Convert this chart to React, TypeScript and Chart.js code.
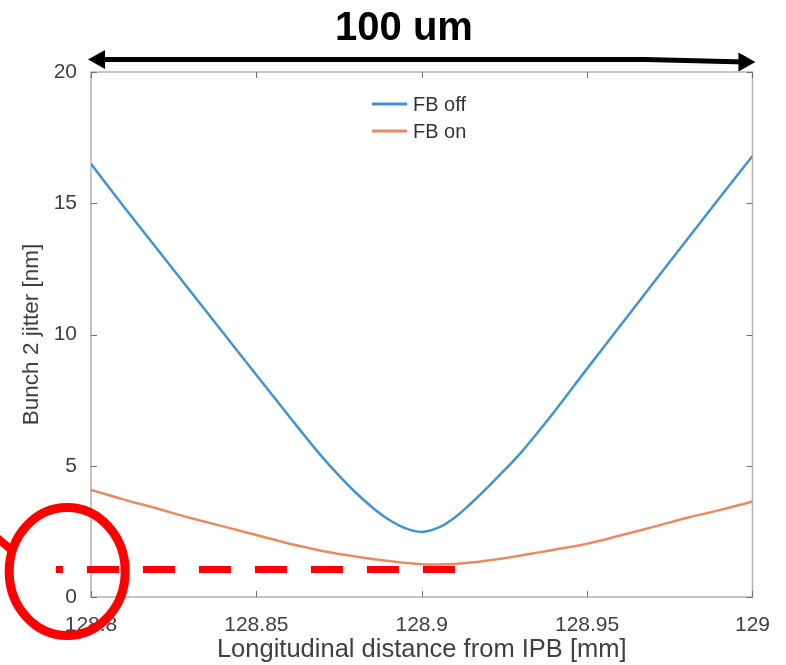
import { useEffect, useRef } from "react";
import { Chart, registerables } from "chart.js";
Chart.register(...registerables);

const positions = [
  128.8, 128.81, 128.82, 128.83, 128.84, 128.85, 128.86, 128.865, 128.87, 128.875,
  128.88, 128.885, 128.89, 128.895, 128.9, 128.905, 128.91, 128.915, 128.92, 128.925,
  128.93, 128.935, 128.94, 128.95, 128.96, 128.97, 128.98, 128.99, 129.0,
];
const fbOff = [
  16.5, 14.86, 13.26, 11.66, 10.06, 8.46, 6.87, 6.08, 5.32, 4.62,
  3.98, 3.42, 2.95, 2.62, 2.48, 2.64, 3.03, 3.58, 4.19, 4.83,
  5.5, 6.26, 7.05, 8.7, 10.33, 11.96, 13.58, 15.2, 16.8,
];
const fbOn = [
  4.08, 3.71, 3.37, 3.01, 2.69, 2.36, 2.03, 1.89, 1.75, 1.64,
  1.54, 1.45, 1.37, 1.3, 1.25, 1.24, 1.26, 1.31, 1.39, 1.48,
  1.58, 1.69, 1.8, 2.03, 2.34, 2.67, 3.01, 3.31, 3.64,
];
const seriesNames = ["FB off", "FB on"];
const xTicks = [128.8, 128.85, 128.9, 128.95, 129];
const xTickLabels = ["128.8", "128.85", "128.9", "128.95", "129"];
const yTicks = [0, 5, 10, 15, 20];
const yTickLabels = ["0", "5", "10", "15", "20"];
const titleText = "100 um";
const xTitle = "Longitudinal distance from IPB [mm]";
const yTitle = "Bunch 2 jitter [nm]";
// annotation anchors in data units
const redLine = { x0: 128.7894, x1: 128.9101, y: 1.05 };
const redCircle = { x: 128.7928, y: 0.97 };
const arrowSpan = { x0: 128.7991, x1: 129.0009 };

const FONT = "'Liberation Sans', Arial, Helvetica, sans-serif";
const BLUE = "#4293d3";
const ORANGE = "#e98a60";

const decor = {
  id: "decor",
  beforeDatasetsDraw(chart: any) {
    const { ctx, chartArea: a, scales } = chart;
    ctx.save();
    ctx.strokeStyle = "#b3b3b3";
    ctx.lineWidth = 1.5;
    ctx.strokeRect(a.left, a.top, a.right - a.left, a.bottom - a.top);
    ctx.strokeStyle = "#707070";
    ctx.lineWidth = 1;
    const tl = 6;
    xTicks.forEach((v) => {
      const px = Math.round(scales.x.getPixelForValue(v)) + 0.5;
      ctx.beginPath();
      ctx.moveTo(px, a.bottom);
      ctx.lineTo(px, a.bottom - tl);
      ctx.moveTo(px, a.top);
      ctx.lineTo(px, a.top + tl);
      ctx.stroke();
    });
    yTicks.forEach((v) => {
      const py = Math.round(scales.y.getPixelForValue(v)) + 0.5;
      ctx.beginPath();
      ctx.moveTo(a.left, py);
      ctx.lineTo(a.left + tl, py);
      ctx.moveTo(a.right, py);
      ctx.lineTo(a.right - tl, py);
      ctx.stroke();
    });
    ctx.restore();
  },
  afterDraw(chart: any) {
    const { ctx, scales } = chart;
    const sx = scales.x, sy = scales.y;
    ctx.save();
    // legend
    const colors = [BLUE, ORANGE];
    ctx.font = `20px ${FONT}`;
    ctx.textBaseline = "middle";
    ctx.textAlign = "left";
    seriesNames.forEach((n, i) => {
      const y = 104 + i * 27;
      ctx.strokeStyle = colors[i];
      ctx.lineWidth = 3;
      ctx.beginPath();
      ctx.moveTo(372, y);
      ctx.lineTo(407, y);
      ctx.stroke();
      ctx.fillStyle = "#333333";
      ctx.fillText(n, 413, y + 1);
    });
    // title
    ctx.fillStyle = "#000";
    ctx.font = `bold 40px ${FONT}`;
    ctx.textAlign = "center";
    ctx.textBaseline = "alphabetic";
    ctx.fillText(titleText, 404, 40);
    // arrow
    const ax0 = sx.getPixelForValue(arrowSpan.x0);
    const ax1 = sx.getPixelForValue(arrowSpan.x1);
    ctx.strokeStyle = "#000";
    ctx.fillStyle = "#000";
    ctx.lineWidth = 5;
    ctx.beginPath();
    ctx.moveTo(ax0 + 10, 59.5);
    ctx.lineTo(645, 59.5);
    ctx.lineTo(ax1 - 10, 62);
    ctx.stroke();
    ctx.beginPath();
    ctx.moveTo(ax0, 59.5);
    ctx.lineTo(ax0 + 17, 50);
    ctx.lineTo(ax0 + 17, 69);
    ctx.closePath();
    ctx.fill();
    ctx.beginPath();
    ctx.moveTo(ax1, 62);
    ctx.lineTo(ax1 - 17, 52.5);
    ctx.lineTo(ax1 - 17, 71.5);
    ctx.closePath();
    ctx.fill();
    // red dashed line
    const rx0 = sx.getPixelForValue(redLine.x0);
    const rx1 = sx.getPixelForValue(redLine.x1);
    const ry = sy.getPixelForValue(redLine.y);
    ctx.strokeStyle = "#ff0000";
    ctx.lineWidth = 7;
    ctx.setLineDash([32, 24]);
    ctx.lineDashOffset = 25;
    ctx.beginPath();
    ctx.moveTo(rx0, ry);
    ctx.lineTo(rx1, ry);
    ctx.stroke();
    ctx.setLineDash([]);
    // red circle
    const cx = sx.getPixelForValue(redCircle.x);
    const cy = sy.getPixelForValue(redCircle.y);
    ctx.lineWidth = 9;
    ctx.beginPath();
    ctx.ellipse(cx, cy, 58, 64, 0, 0, Math.PI * 2);
    ctx.stroke();
    ctx.lineWidth = 8;
    ctx.beginPath();
    ctx.moveTo(cx - 75, cy - 38);
    ctx.lineTo(cx - 54, cy - 20);
    ctx.stroke();
    ctx.restore();
  },
};

export default function App() {
  const ref = useRef<HTMLCanvasElement>(null);
  useEffect(() => {
    if (!ref.current) return;
    const chart = new Chart(ref.current, {
      type: "line",
      data: {
        datasets: [
          {
            label: seriesNames[0],
            data: positions.map((x, i) => ({ x, y: fbOff[i] })),
            borderColor: BLUE,
            borderWidth: 2.5,
            pointRadius: 0,
            tension: 0.4,
            fill: false,
          },
          {
            label: seriesNames[1],
            data: positions.map((x, i) => ({ x, y: fbOn[i] })),
            borderColor: ORANGE,
            borderWidth: 2.5,
            pointRadius: 0,
            tension: 0.4,
            fill: false,
          },
        ],
      },
      options: {
        animation: false,
        responsive: false,
        devicePixelRatio: 1,
        layout: { padding: { left: 0, right: 32, top: 72, bottom: 0 } },
        plugins: { legend: { display: false }, tooltip: { enabled: false }, title: { display: false } },
        scales: {
          x: {
            type: "linear",
            min: 128.8,
            max: 129,
            afterFit: (s: any) => { s.height = 68; },
            afterBuildTicks: (s: any) => { s.ticks = xTicks.map((v) => ({ value: v })); },
            grid: { display: false, drawTicks: false },
            border: { display: false },
            ticks: {
              autoSkip: false,
              maxRotation: 0,
              padding: 16,
              color: "#404040",
              font: { family: FONT, size: 21 },
              callback: (v: any) => {
                const i = xTicks.findIndex((t) => Math.abs(t - v) < 1e-6);
                return i >= 0 ? xTickLabels[i] : "";
              },
            },
            title: {
              display: true,
              text: xTitle,
              color: "#404040",
              font: { family: FONT, size: 25.5 },
              padding: { top: 0, bottom: 0 },
            },
          },
          y: {
            type: "linear",
            min: 0,
            max: 20,
            afterFit: (s: any) => { s.width = 91; },
            afterBuildTicks: (s: any) => { s.ticks = yTicks.map((v) => ({ value: v })); },
            grid: { display: false, drawTicks: false },
            border: { display: false },
            ticks: {
              autoSkip: false,
              padding: 14,
              color: "#404040",
              font: { family: FONT, size: 21 },
              callback: (v: any) => {
                const i = yTicks.indexOf(Number(v));
                return i >= 0 ? yTickLabels[i] : "";
              },
            },
            title: {
              display: true,
              text: yTitle,
              color: "#404040",
              font: { family: FONT, size: 22.5 },
              padding: { top: 18, bottom: 0 },
            },
          },
        },
      },
      plugins: [decor],
    } as any);
    return () => chart.destroy();
  }, []);
  return (
    <div style={{ position: "fixed", left: 0, top: 0, width: 786, height: 665, background: "#fff" }}>
      <canvas ref={ref} width={786} height={665} style={{ width: 786, height: 665, display: "block" }} />
    </div>
  );
}
